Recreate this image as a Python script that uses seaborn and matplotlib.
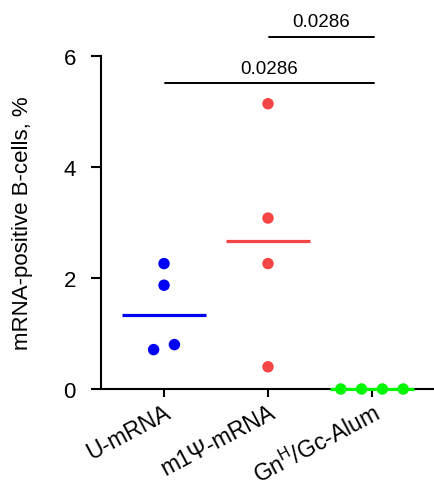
import matplotlib
matplotlib.use("Agg")
import matplotlib.pyplot as plt
import matplotlib.transforms as mtransforms
import seaborn as sns
import numpy as np
import pandas as pd

# ---- data ----
groups = ["U-mRNA", "m1Ψ-mRNA", "Gn$^{\\mathrm{H}}$/Gc-Alum"]
u_mrna = [2.26, 1.87, 0.71, 0.80]
m1psi_mrna = [5.14, 3.08, 2.26, 0.40]
gn_alum = [0.0, 0.0, 0.0, 0.0]
p_values = ["0.0286", "0.0286"]
comparisons = [(0, 2), (1, 2)]
comp_heights = [5.51, 6.34]

# ---- styling ----
colors = ["#0000F5", "#F54545", "#00F500"]
x_offsets = [[0.0, 0.0, -0.1, 0.1],
             [0.0, 0.0, 0.0, 0.0],
             [-0.3, -0.1, 0.1, 0.3]]

sns.set_style("ticks")
plt.rcParams["font.family"] = ["Liberation Sans", "DejaVu Sans"]
plt.rcParams["mathtext.fontset"] = "custom"
plt.rcParams["mathtext.rm"] = "Liberation Sans"
plt.rcParams["text.color"] = "black"
plt.rcParams["axes.labelcolor"] = "black"
plt.rcParams["xtick.color"] = "black"
plt.rcParams["ytick.color"] = "black"

values = [u_mrna, m1psi_mrna, gn_alum]
rows = []
for gi, (g, vals) in enumerate(zip(groups, values)):
    for j, v in enumerate(vals):
        rows.append({"group": g, "gi": gi, "x": gi + x_offsets[gi][j], "value": v})
df = pd.DataFrame(rows)

fig = plt.figure(figsize=(4.35, 4.89), dpi=100)
ax = fig.add_axes([101/435, 99/489, 334/435, 333/489])

sns.scatterplot(data=df, x="x", y="value", hue="group", palette=colors,
                s=68, linewidth=0, legend=False, ax=ax, clip_on=False, zorder=5)

# median lines
for gi, vals in enumerate(values):
    med = float(np.median(vals))
    ax.plot([gi - 0.4, gi + 0.4], [med, med], color=colors[gi], lw=2.3,
            solid_capstyle="butt", clip_on=False, zorder=4)

# significance bars
for (a, b), h, p in zip(comparisons, comp_heights, p_values):
    ax.plot([a + 0.01, b + 0.02], [h, h], color="black", lw=1.4, clip_on=False)
    ax.text((a + b) / 2 + 0.01, h + 0.12, p, ha="center", va="bottom",
            fontsize=13.5, color="black", clip_on=False)

ax.set_xlim(-0.606, 2.606)
ax.set_ylim(0, 6)
ax.set_yticks([0, 2, 4, 6])
ax.set_xticks(range(len(groups)))
ax.set_xticklabels(groups, rotation=28, ha="right", rotation_mode="anchor",
                   fontsize=16.5)
offset = mtransforms.ScaledTranslation(-3/100, 0, fig.dpi_scale_trans)
for lbl in ax.get_xticklabels():
    lbl.set_transform(lbl.get_transform() + offset)
ax.set_xlabel("")
ax.set_ylabel("mRNA-positive B-cells, %", fontsize=16, labelpad=22, color="black")

for side in ["top", "right"]:
    ax.spines[side].set_visible(False)
for side in ["left", "bottom"]:
    ax.spines[side].set_linewidth(1.5)
    ax.spines[side].set_color("black")
ax.tick_params(axis="both", width=1.5, color="black", labelcolor="black")
ax.tick_params(axis="y", length=7, pad=11, labelsize=16)
ax.tick_params(axis="x", length=6, pad=2)

fig.savefig("out.png", dpi=100)
